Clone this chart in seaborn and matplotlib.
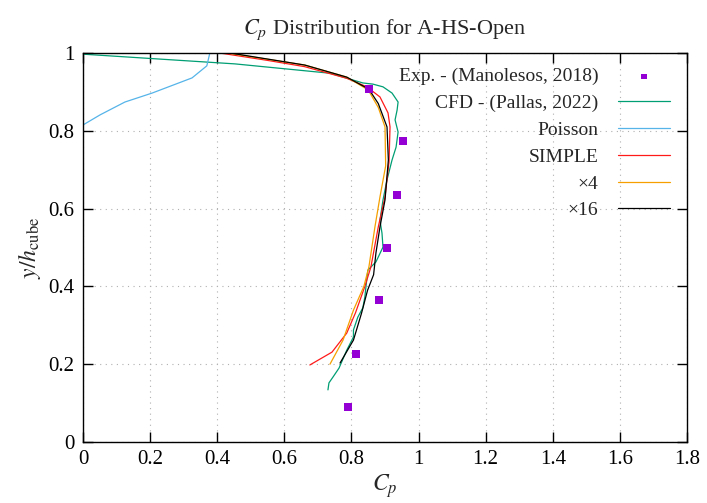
import matplotlib
matplotlib.use("Agg")
import matplotlib.pyplot as plt
import seaborn as sns
import pandas as pd

# ---- data ----
exp_x = [0.852, 0.954, 0.936, 0.906, 0.882, 0.813, 0.790]
exp_y = [0.907, 0.774, 0.635, 0.499, 0.365, 0.226, 0.090]

cfd_x = [0.0, 0.453, 0.736, 0.834, 0.864, 0.894, 0.921, 0.939, 0.936, 0.930, 0.939, 0.933,
         0.921, 0.906, 0.894, 0.885, 0.891, 0.894, 0.873, 0.849, 0.846, 0.840, 0.834, 0.819,
         0.806, 0.806, 0.786, 0.763, 0.745, 0.733, 0.730]
cfd_y = [0.997, 0.972, 0.948, 0.923, 0.920, 0.913, 0.897, 0.874, 0.853, 0.828, 0.797, 0.758,
         0.725, 0.674, 0.622, 0.570, 0.537, 0.501, 0.463, 0.442, 0.421, 0.373, 0.345, 0.321,
         0.288, 0.270, 0.236, 0.190, 0.167, 0.152, 0.134]

poisson_x = [0.0, 0.051, 0.125, 0.206, 0.325, 0.369, 0.378, 0.385]
poisson_y = [0.815, 0.841, 0.874, 0.897, 0.936, 0.967, 1.0, 1.03]

simple_x = [0.408, 0.55, 0.66, 0.786, 0.846, 0.885, 0.909, 0.915, 0.912, 0.900, 0.880,
            0.858, 0.840, 0.812, 0.786, 0.742, 0.676]
simple_y = [1.0, 0.981, 0.965, 0.935, 0.913, 0.887, 0.846, 0.810, 0.720, 0.630, 0.553,
            0.450, 0.400, 0.332, 0.280, 0.231, 0.198]

x4_x = [0.430, 0.661, 0.786, 0.850, 0.880, 0.900, 0.902, 0.885, 0.870, 0.852, 0.837,
        0.806, 0.775, 0.736]
x4_y = [1.0, 0.969, 0.938, 0.905, 0.860, 0.810, 0.710, 0.630, 0.553, 0.450, 0.400,
        0.339, 0.262, 0.200]

x16_x = [0.438, 0.661, 0.786, 0.852, 0.880, 0.906, 0.910, 0.900, 0.885, 0.873, 0.866,
         0.848, 0.830, 0.806, 0.766]
x16_y = [1.0, 0.969, 0.938, 0.907, 0.870, 0.810, 0.725, 0.622, 0.553, 0.486, 0.430,
         0.390, 0.331, 0.262, 0.203]

x_ticks = [0, 0.2, 0.4, 0.6, 0.8, 1.0, 1.2, 1.4, 1.6, 1.8]
x_tick_labels = ["0", "0.2", "0.4", "0.6", "0.8", "1", "1.2", "1.4", "1.6", "1.8"]
y_ticks = [0, 0.2, 0.4, 0.6, 0.8, 1.0]
y_tick_labels = ["0", "0.2", "0.4", "0.6", "0.8", "1"]

# ---- style ----
sns.set_theme(style="ticks")
plt.rcParams["font.family"] = ["Liberation Serif", "DejaVu Serif"]
plt.rcParams["mathtext.fontset"] = "stix"
plt.rcParams["font.size"] = 14

fig = plt.figure(figsize=(7.07, 5.03), dpi=100)
ax = fig.add_axes([83 / 707, 1 - 442 / 503, (687 - 83) / 707, (442 - 53) / 503])

series = [
    ("CFD - (Pallas, 2022)", cfd_x, cfd_y, "#009e73"),
    ("Poisson", poisson_x, poisson_y, "#56b4e9"),
    ("SIMPLE", simple_x, simple_y, "#ff1a1a"),
    ("\u00d74", x4_x, x4_y, "#f5a000"),
    ("\u00d716", x16_x, x16_y, "#000000"),
]

sns.scatterplot(x=exp_x, y=exp_y, marker="s", s=30, color="#9400d3", edgecolor="none",
                ax=ax, label="Exp. - (Manolesos, 2018)", zorder=10)
for name, xs, ys, col in series:
    df = pd.DataFrame({"x": xs, "y": ys})
    sns.lineplot(data=df, x="x", y="y", sort=False, estimator=None, color=col,
                 lw=0.9, ax=ax, label=name)

ax.set_xlim(0, 1.8)
ax.set_ylim(0, 1)
ax.set_xticks(x_ticks)
ax.set_xticklabels(x_tick_labels)
ax.set_yticks(y_ticks)
ax.set_yticklabels(y_tick_labels)
ax.tick_params(direction="in", length=7, width=1, top=True, right=True,
               labelsize=15, pad=6, colors="black")
ax.grid(True, linestyle=(0, (1, 4)), color="#b0b0b0", lw=0.8)
for s in ax.spines.values():
    s.set_color("black")
    s.set_linewidth(1.0)

ax.set_title("$C_p$ Distribution for A-HS-Open", fontsize=16, pad=14)
ax.set_xlabel("$C_p$", fontsize=17, labelpad=2)
ax.set_ylabel("$y/h_{\\mathrm{cube}}$", fontsize=17, labelpad=4)

handles, labels = ax.get_legend_handles_labels()
leg = ax.legend(handles, labels, loc="upper right", bbox_to_anchor=(0.972, 0.962),
                frameon=False, markerfirst=False, fontsize=14, handlelength=2.7,
                handletextpad=1.0, labelspacing=0.47, borderpad=0, borderaxespad=0,
                markerscale=0.7)

fig.savefig("out.png", dpi=100)
